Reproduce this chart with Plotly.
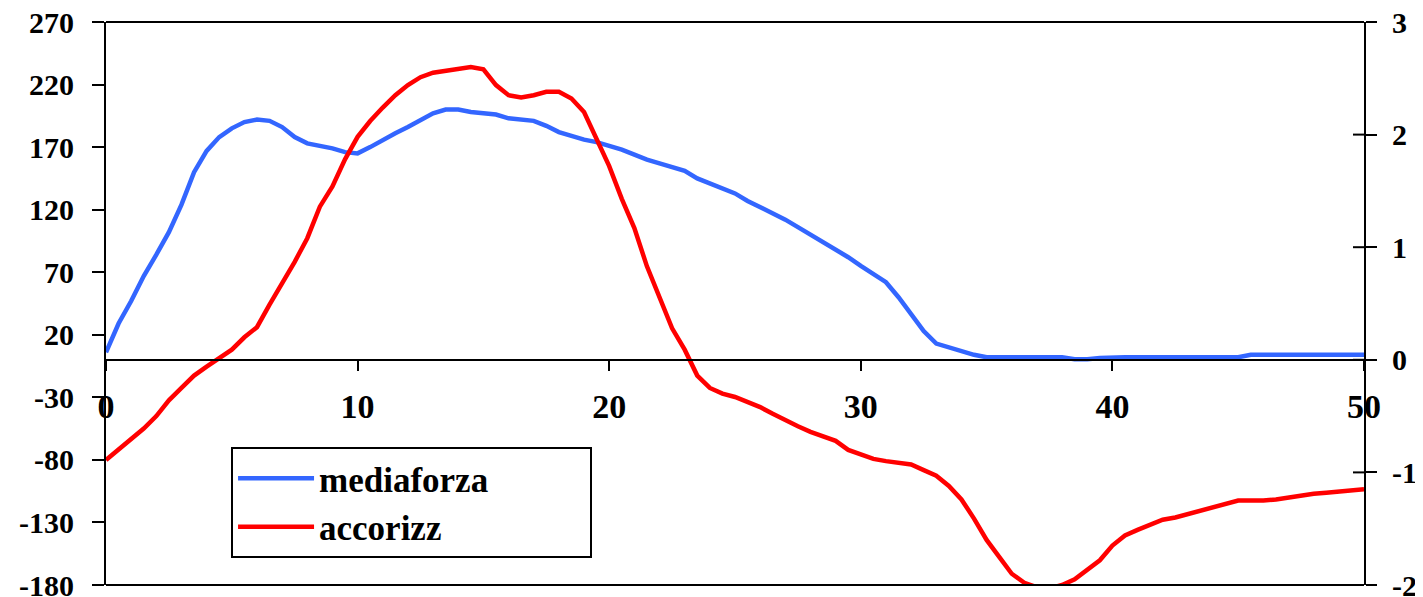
import numpy as np
import plotly.graph_objects as go

# sample grid (time), step 0.5
time = np.arange(0, 50.5, 0.5)

mediaforza = [
    6, 29, 47, 67, 84, 102, 124, 150, 167, 178,
    185, 190, 192, 191, 186, 178, 173, 171, 169, 166,
    165, 170, 176, 181, 186, 192, 197, 200, 200, 198,
    197, 196, 193, 192, 191, 187, 182, 179, 176, 174,
    171, 168, 164, 160, 157, 154, 151, 145, 141, 137,
    133, 127, 122, 117, 112, 106, 100, 94, 89, 82,
    75, 68, 62, 50, 37, 23, 13, 10, 7, 4,
    2, 2, 2, 2, 2, 2, 2, 0.5, 0.5, 1.5,
    2, 2, 2, 2, 2, 2, 2, 2, 2, 2,
    2, 4, 4, 4, 4, 4, 4, 4, 4, 4, 4,
]

accorizz = [
    -0.89, -0.80, -0.71, -0.61, -0.50, -0.36, -0.25, -0.14, -0.06, 0.02,
    0.09, 0.20, 0.29, 0.49, 0.68, 0.87, 1.08, 1.36, 1.54, 1.78,
    1.98, 2.12, 2.24, 2.35, 2.44, 2.51, 2.55, 2.57, 2.58, 2.60,
    2.58, 2.44, 2.35, 2.33, 2.35, 2.38, 2.38, 2.32, 2.20, 1.95,
    1.72, 1.43, 1.17, 0.83, 0.56, 0.28, 0.09, -0.14, -0.25, -0.30,
    -0.33, -0.37, -0.42, -0.48, -0.54, -0.59, -0.64, -0.68, -0.72, -0.80,
    -0.84, -0.88, -0.90, -0.92, -0.93, -0.98, -1.03, -1.12, -1.24, -1.41,
    -1.60, -1.75, -1.90, -1.98, -2.02, -2.03, -2.00, -1.95, -1.87, -1.78,
    -1.65, -1.56, -1.51, -1.46, -1.42, -1.40, -1.37, -1.34, -1.30, -1.27,
    -1.25, -1.25, -1.25, -1.24, -1.22, -1.21, -1.19, -1.18, -1.17, -1.16, -1.15,
]

left_ticks = [-180, -130, -80, -30, 20, 70, 120, 170, 220, 270]
right_ticks = [-2, -1, 0, 1, 2, 3]
x_ticks = [0, 10, 20, 30, 40, 50]

FONT = "Liberation Serif"
BLUE = "#3366FF"
RED = "#FF0000"
PAD = "\u00a0" * 11  # widens the legend box a little

fig = go.Figure()
fig.add_trace(go.Scatter(
    x=time, y=mediaforza, name="mediaforza" + PAD, mode="lines",
    line=dict(color=BLUE, width=4.5), yaxis="y"
))
fig.add_trace(go.Scatter(
    x=time, y=accorizz, name="accorizz" + PAD, mode="lines",
    line=dict(color=RED, width=4.5), yaxis="y2"
))

# top and bottom frame lines
for yy in (0, 1):
    fig.add_shape(type="line", xref="paper", yref="paper",
                  x0=0, x1=1, y0=yy, y1=yy,
                  line=dict(color="black", width=2))

# inner half of the crossing ticks on the right axis
for t in right_ticks:
    fig.add_shape(type="line", xref="paper", yref="y2",
                  x0=1 - 11 / 1258, x1=1, y0=t, y1=t,
                  line=dict(color="black", width=2))

axis_common = dict(
    showgrid=False, zeroline=False, showline=True, automargin=False,
    linecolor="black", linewidth=2, tickwidth=2, tickcolor="black",
    ticks="outside", ticklabeloverflow="allow",
)

# page body has an 8px offset, so margins are trimmed by that much
fig.update_layout(
    template="none",
    width=1423, height=597,
    margin=dict(l=98, r=67, t=14, b=20),
    plot_bgcolor="white", paper_bgcolor="white",
    font=dict(family=FONT, color="black"),
    showlegend=True,
    legend=dict(
        x=0.0994, y=0.245, xanchor="left", yanchor="top",
        bordercolor="black", borderwidth=2, bgcolor="white",
        font=dict(family=FONT, size=35, color="black", weight="bold"),
        itemwidth=76,
    ),
    xaxis=dict(
        range=[0, 50], tickvals=x_ticks, anchor="free", position=0.4,
        ticklen=10, ticklabelstandoff=6,
        tickfont=dict(family=FONT, size=34, weight="bold"),
        **axis_common,
    ),
    yaxis=dict(
        range=[-180, 270], tickvals=left_ticks,
        ticktext=[str(v) for v in left_ticks],
        ticklen=12, ticklabelstandoff=12,
        tickfont=dict(family=FONT, size=30, weight="bold"),
        **axis_common,
    ),
    yaxis2=dict(
        range=[-2, 3], tickvals=right_ticks,
        ticktext=[str(v) for v in right_ticks],
        overlaying="y", side="right",
        anchor="x", ticklen=11, ticklabelstandoff=9,
        tickfont=dict(family=FONT, size=30, weight="bold"),
        **axis_common,
    ),
)

fig.write_html("out.html")
